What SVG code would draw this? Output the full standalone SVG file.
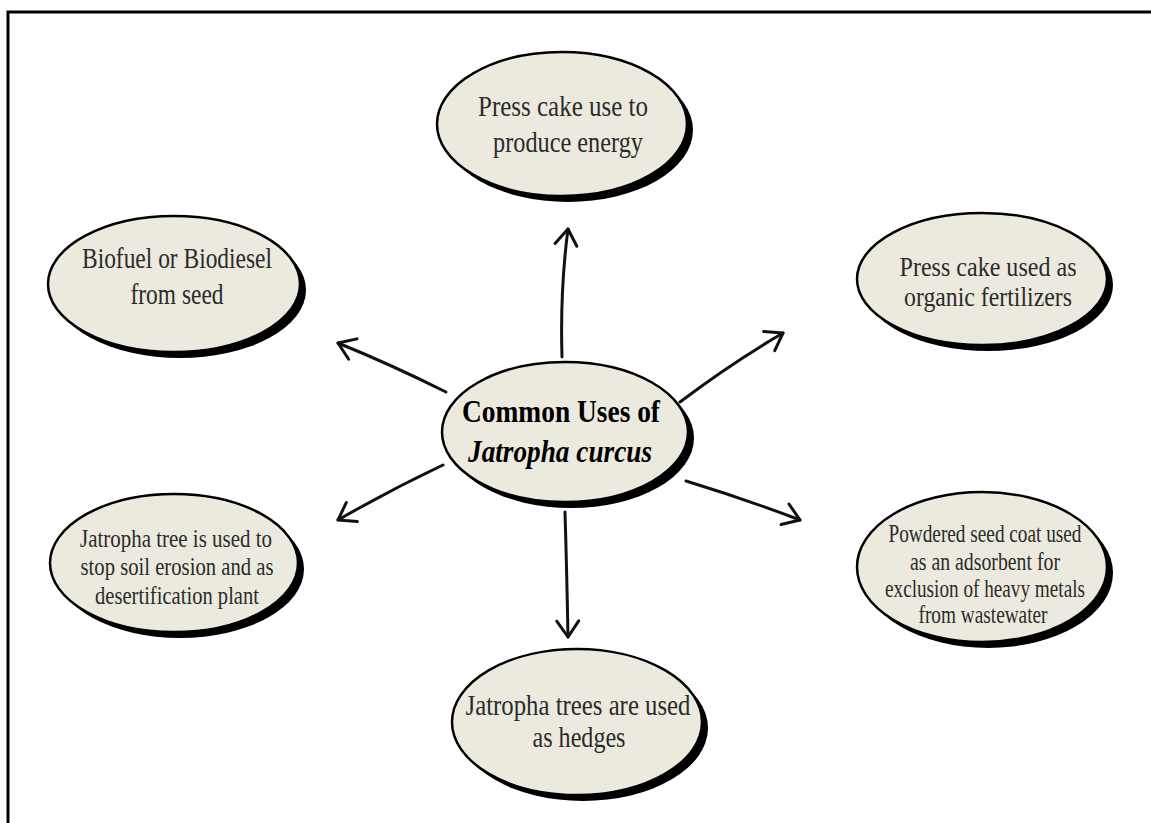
<svg xmlns="http://www.w3.org/2000/svg" width="1151" height="823" viewBox="0 0 1151 823">
<defs>
<marker id="arr" markerUnits="userSpaceOnUse" markerWidth="40" markerHeight="40" refX="0" refY="0" viewBox="-20 -20 40 40" orient="auto" overflow="visible">
<path d="M-16,-11 L0,0 L-16,11" fill="none" stroke="#111" stroke-width="3" stroke-linecap="round" stroke-linejoin="round"/>
</marker>
</defs>
<style>
.sh{fill:#000}
.el{fill:#eceadf;stroke:#000;stroke-width:2.5}
.t{font-family:"Liberation Serif","Times New Roman",serif;fill:#2b2b2b;text-anchor:middle}
.c{font-family:"Liberation Serif","Times New Roman",serif;fill:#000;text-anchor:middle;font-weight:bold;font-size:31px}
.ar{fill:none;stroke:#111;stroke-width:3;stroke-linecap:round;marker-end:url(#arr)}
</style>
<rect width="1151" height="823" fill="#fff"/>
<path d="M8,830 V12 H1160" fill="none" stroke="#000" stroke-width="3"/>
<g id="connectors">
<path class="ar" d="M562,357 Q560,290 568,229"/>
<path class="ar" d="M446,392 Q392,365 338,343"/>
<path class="ar" d="M680,402 Q730,364 783,333"/>
<path class="ar" d="M443,465 Q390,490 338,520"/>
<path class="ar" d="M686,481 Q745,499 800,520"/>
<path class="ar" d="M565,512 Q567,580 568,637"/>
</g>
<g id="n-center">
<ellipse class="sh" cx="571" cy="438" rx="123" ry="70"/>
<ellipse class="el" cx="565" cy="432" rx="123" ry="70"/>
<text class="c" x="561" y="422" textLength="198" lengthAdjust="spacingAndGlyphs">Common Uses of</text>
<text class="c" x="560" y="462" font-style="italic" textLength="184" lengthAdjust="spacingAndGlyphs">Jatropha curcus</text>
</g>
<g id="n-energy">
<ellipse class="sh" cx="568" cy="130" rx="125" ry="72"/>
<ellipse class="el" cx="562" cy="124" rx="125" ry="72"/>
<text class="t" font-size="30" x="563" y="116" textLength="170" lengthAdjust="spacingAndGlyphs">Press cake use to</text>
<text class="t" font-size="30" x="568" y="152" textLength="150" lengthAdjust="spacingAndGlyphs">produce energy</text>
</g>
<g id="n-biofuel">
<ellipse class="sh" cx="180" cy="290" rx="126" ry="68"/>
<ellipse class="el" cx="174" cy="284" rx="126" ry="68"/>
<text class="t" font-size="30" x="177" y="268" textLength="190" lengthAdjust="spacingAndGlyphs">Biofuel or Biodiesel</text>
<text class="t" font-size="30" x="177" y="304" textLength="93" lengthAdjust="spacingAndGlyphs">from seed</text>
</g>
<g id="n-fertilizers">
<ellipse class="sh" cx="988" cy="285" rx="125" ry="66"/>
<ellipse class="el" cx="982" cy="279" rx="125" ry="66"/>
<text class="t" font-size="27" x="988" y="276" textLength="177" lengthAdjust="spacingAndGlyphs">Press cake used as</text>
<text class="t" font-size="27" x="988" y="306" textLength="168" lengthAdjust="spacingAndGlyphs">organic fertilizers</text>
</g>
<g id="n-erosion">
<ellipse class="sh" cx="180" cy="569" rx="124" ry="69"/>
<ellipse class="el" cx="174" cy="563" rx="124" ry="69"/>
<text class="t" font-size="26" x="176" y="547" textLength="192" lengthAdjust="spacingAndGlyphs">Jatropha tree is used to</text>
<text class="t" font-size="26" x="177" y="575" textLength="193" lengthAdjust="spacingAndGlyphs">stop soil erosion and as</text>
<text class="t" font-size="26" x="177" y="604" textLength="164" lengthAdjust="spacingAndGlyphs">desertification plant</text>
</g>
<g id="n-adsorbent">
<ellipse class="sh" cx="988" cy="573" rx="125" ry="75"/>
<ellipse class="el" cx="982" cy="567" rx="125" ry="75"/>
<text class="t" font-size="25" x="985" y="542" textLength="193" lengthAdjust="spacingAndGlyphs">Powdered seed coat used</text>
<text class="t" font-size="25" x="985" y="570" textLength="150" lengthAdjust="spacingAndGlyphs">as an adsorbent for</text>
<text class="t" font-size="25" x="985" y="597" textLength="200" lengthAdjust="spacingAndGlyphs">exclusion of heavy metals</text>
<text class="t" font-size="25" x="983" y="623" textLength="129" lengthAdjust="spacingAndGlyphs">from wastewater</text>
</g>
<g id="n-hedges">
<ellipse class="sh" cx="583" cy="728" rx="125" ry="73"/>
<ellipse class="el" cx="577" cy="722" rx="125" ry="73"/>
<text class="t" font-size="29" x="578" y="715" textLength="225" lengthAdjust="spacingAndGlyphs">Jatropha trees are used</text>
<text class="t" font-size="29" x="579" y="747" textLength="93" lengthAdjust="spacingAndGlyphs">as hedges</text>
</g>
</svg>
